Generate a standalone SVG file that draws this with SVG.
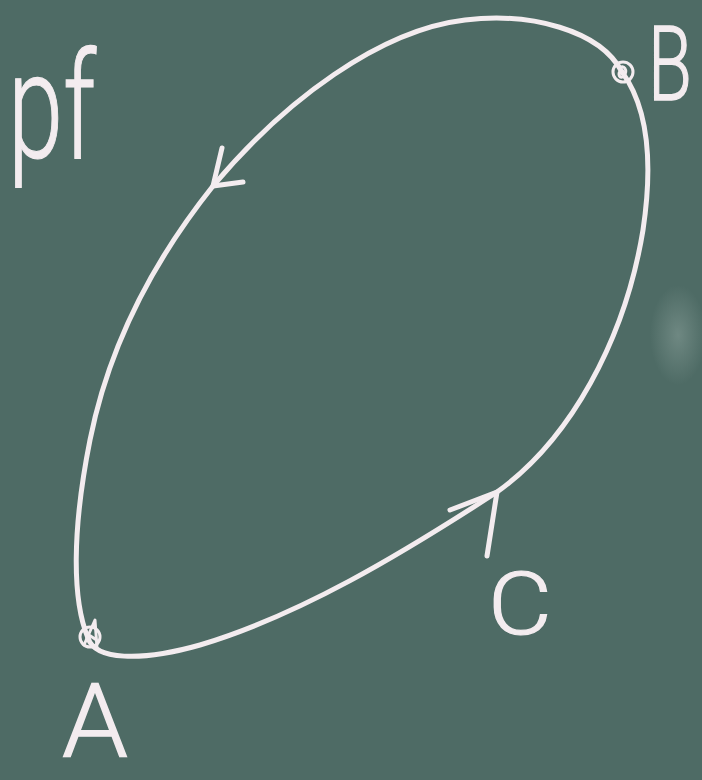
<svg xmlns="http://www.w3.org/2000/svg" width="702" height="780" viewBox="0 0 702 780">
  <style>
    .chalk { fill: none; stroke: #f3ecef; stroke-width: 5; stroke-linecap: round; stroke-linejoin: round; }
    .thin { fill: none; stroke: #f3ecef; stroke-width: 3; stroke-linecap: round; stroke-linejoin: round; }
    .label { fill: #f3ecef; stroke: #f3ecef; stroke-width: 1.2; font-family: Roboto, Lato, "Open Sans", "Liberation Sans", sans-serif; font-weight: 300; }
  </style>
  <defs>
    <radialGradient id="smudge" cx="0.5" cy="0.5" r="0.5">
      <stop offset="0" stop-color="#8fa59f" stop-opacity="0.5"/>
      <stop offset="1" stop-color="#8fa59f" stop-opacity="0"/>
    </radialGradient>
  </defs>
  <rect x="0" y="0" width="702" height="780" fill="#4e6b65"/>
  <ellipse cx="678" cy="335" rx="28" ry="50" fill="url(#smudge)"/>

  <g id="connectors">
    <path class="chalk" d="M622,72 C600,30 530,12 465,20 C380,30 285,100 213,186 C150,265 108,350 90,440 C72,530 72,600 88,638"/>
    <path class="chalk" d="M88,638 C95,660 140,662 200,645 C300,615 400,555 497,492 C570,440 625,340 643,230 C652,170 650,110 622,72"/>
    <path class="chalk" d="M222,148 L213,186 L243,182"/>
    <path class="chalk" d="M450,510 L497,492 L487,556"/>
  </g>

  <g id="node-B">
    <circle class="thin" cx="623" cy="72" r="10"/>
    <path class="thin" d="M619,68 C624,64 628,70 624,76 C620,80 617,74 621,70"/>
    <text class="label" transform="translate(648,100) scale(1,1.2)" x="0" y="0" font-size="86" textLength="44" lengthAdjust="spacingAndGlyphs">B</text>
  </g>

  <g id="node-A">
    <circle class="thin" cx="90" cy="637" r="10"/>
    <path class="thin" d="M84,645 L95,620 L97,648 M86,633 L98,641"/>
    <text class="label" transform="translate(62,756) scale(1,1.1)" x="0" y="0" font-size="92" textLength="66" lengthAdjust="spacingAndGlyphs">A</text>
  </g>

  <g id="label-C">
    <text class="label" x="488" y="634" font-size="88" textLength="64" lengthAdjust="spacingAndGlyphs">C</text>
  </g>

  <g id="label-pf">
    <text class="label" x="8" y="158" font-size="148" textLength="88" lengthAdjust="spacingAndGlyphs">pf</text>
  </g>
</svg>
